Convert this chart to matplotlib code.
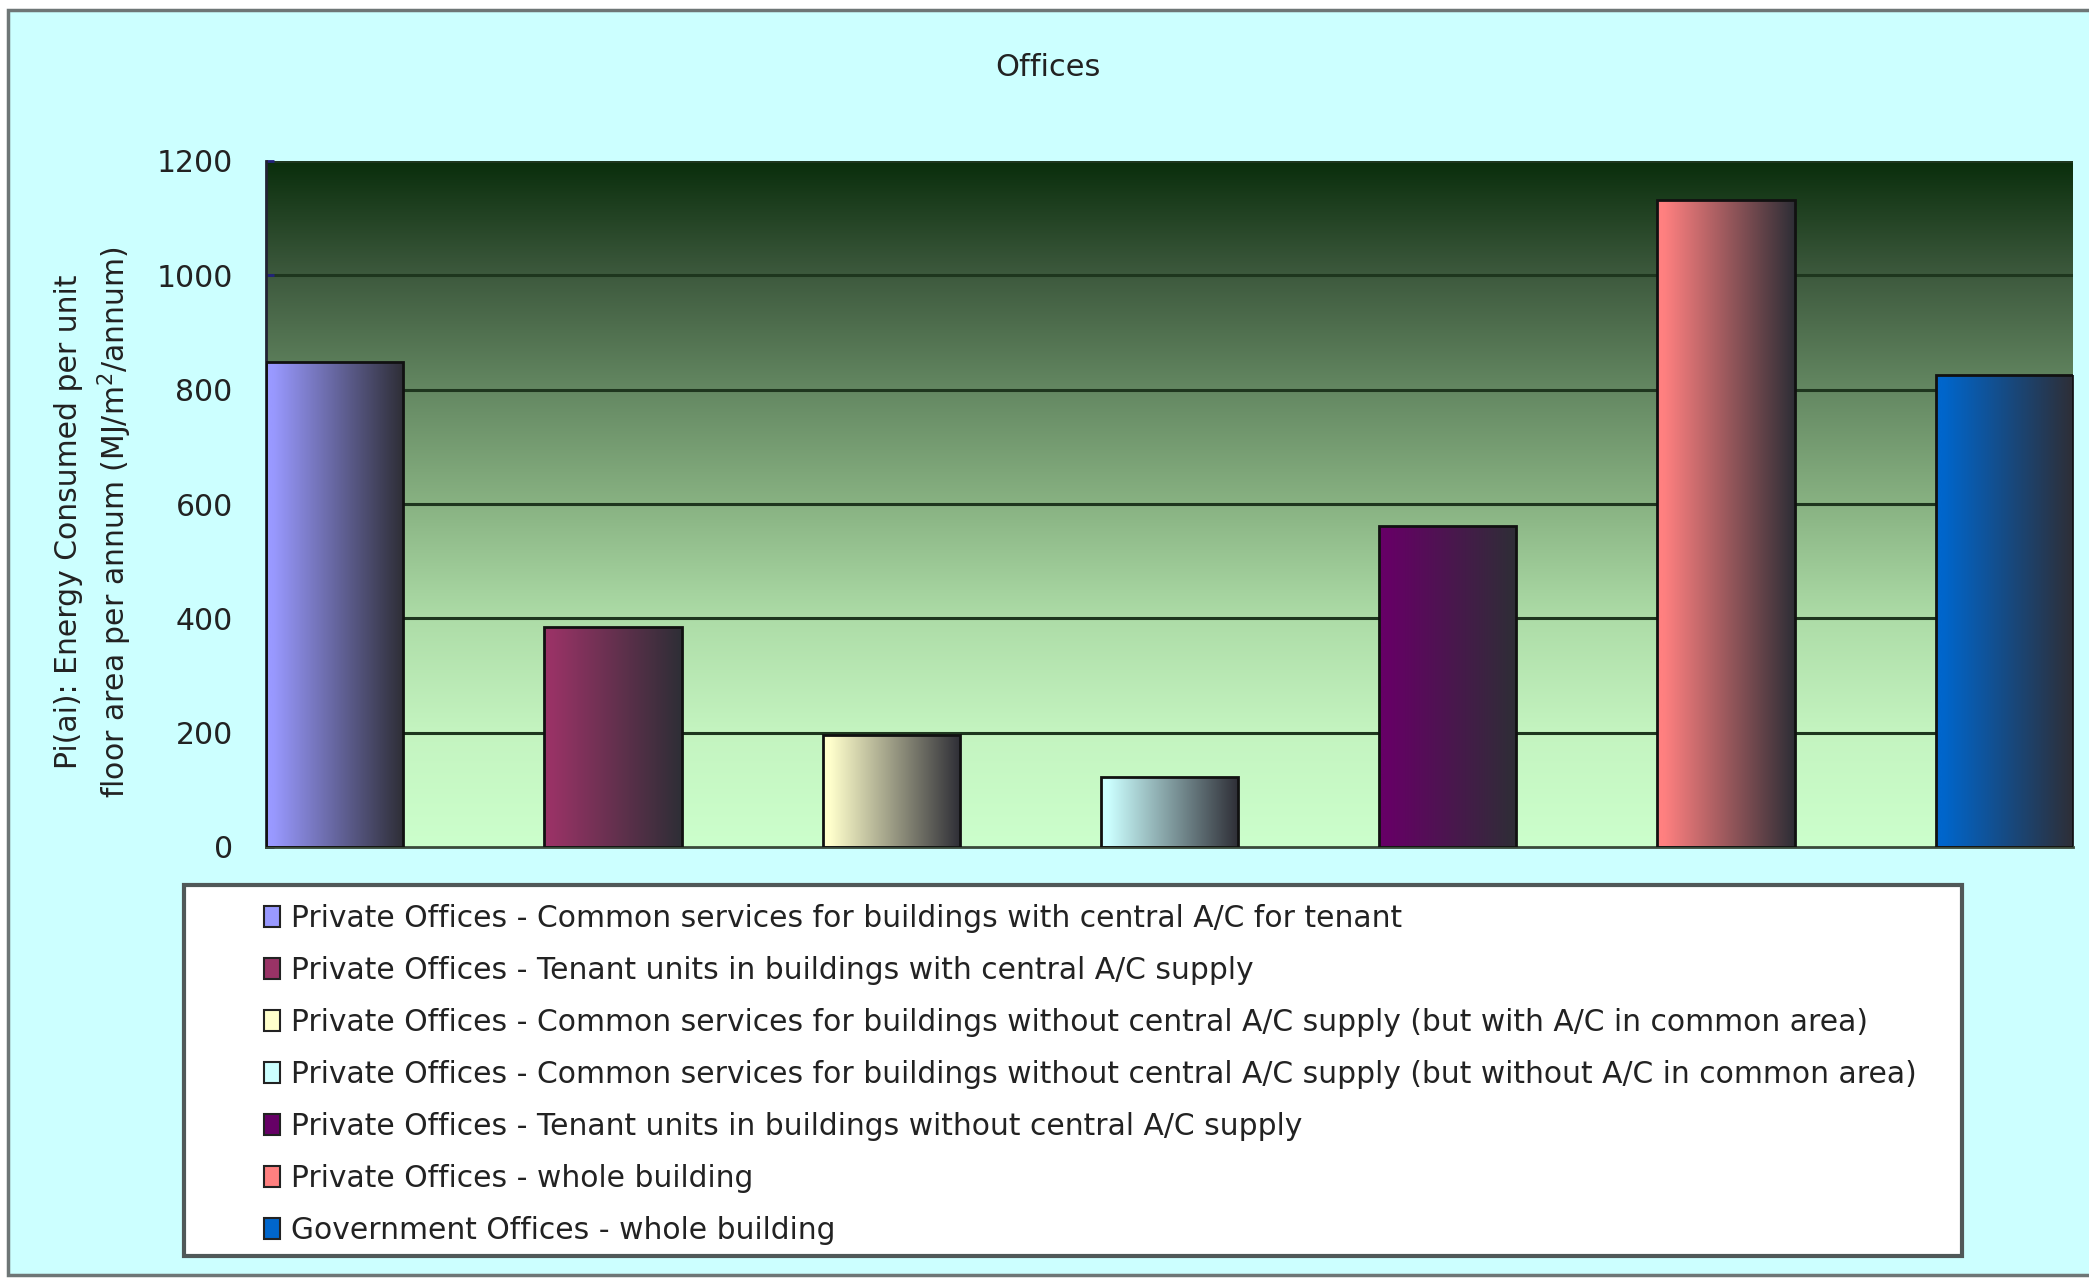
import numpy as np
import matplotlib
matplotlib.use("Agg")
import matplotlib.pyplot as plt
from matplotlib.colors import LinearSegmentedColormap, to_rgb
from matplotlib.patches import Rectangle, Patch

plt.rcParams['font.family'] = ['DejaVu Sans']

labels = [
    "Private Offices - Common services for buildings with central A/C for tenant",
    "Private Offices - Tenant units in buildings with central A/C supply",
    "Private Offices - Common services for buildings without central A/C supply (but with A/C in common area)",
    "Private Offices - Common services for buildings without central A/C supply (but without A/C in common area)",
    "Private Offices - Tenant units in buildings without central A/C supply",
    "Private Offices - whole building",
    "Government Offices - whole building",
]
values = [848, 384, 196, 123, 561, 1132, 825]
bar_colors = ["#9999FF", "#993366", "#FFFFCC", "#CCFFFF", "#660066", "#FF8080", "#0066CC"]
yticks = [0, 200, 400, 600, 800, 1000, 1200]

W, H = 2089, 1281
fig = plt.figure(figsize=(W / 100, H / 100), dpi=100, facecolor="white")

# chart area: pale cyan with a grey frame on top/left/bottom
fig.patches.append(Rectangle((8 / W, 6 / H), 1.05, 1 - 16 / H, transform=fig.transFigure,
                             facecolor="#CCFFFF", edgecolor="#6E7676", linewidth=2.5, zorder=-5))

ax = fig.add_axes([266 / W, 1 - 847 / H, (2073 - 266) / W, (847 - 161) / H])
ax.set_facecolor("none")

# vertical green gradient behind the bars
bg = LinearSegmentedColormap.from_list("bg", [
    (0.0, "#CCFFCC"), (1 / 6, "#C4F4C0"), (2 / 6, "#ADDCA7"), (3 / 6, "#88B282"),
    (4 / 6, "#648862"), (5 / 6, "#3E5A3E"), (1.0, "#0A2E0C")])
width = 0.493
xmin, xmax = -width / 2, len(values) - 1 + width / 2
grad = np.linspace(0, 1, 256).reshape(-1, 1)
ax.imshow(grad, cmap=bg, origin="lower", aspect="auto",
          extent=(xmin, xmax, 0, 1200), zorder=0)

for y in yticks[1:]:
    ax.axhline(y, color="#1E361E", linewidth=2.2, zorder=1)

x = np.arange(len(values))
bars = ax.bar(x, values, width=width, facecolor="none", edgecolor="#111111",
              linewidth=2, zorder=3)
for b, c in zip(bars, bar_colors):
    base = np.array(to_rgb(c))
    dark = np.array(to_rgb("#2E2E36"))
    t = np.clip((np.linspace(0, 1, 200) - 0.05) / 0.95, 0, 1)
    row = base[None, :] * (1 - t[:, None]) + dark[None, :] * t[:, None]
    im = ax.imshow(row[None, :, :], aspect="auto", zorder=2,
                   extent=(b.get_x(), b.get_x() + b.get_width(), 0, b.get_height()))
    im.set_clip_path(b)

ax.set_xlim(xmin, xmax)
ax.set_ylim(0, 1200)
ax.set_xticks([])
ax.set_yticks(yticks)
ax.tick_params(axis="y", direction="in", length=6, width=2, color="#22227A",
               labelsize=21.5, pad=24, labelcolor="#222222")
for s in ["top", "right"]:
    ax.spines[s].set_visible(False)
ax.spines["left"].set_color("#222233")
ax.spines["left"].set_linewidth(2)
ax.spines["bottom"].set_color("#3A4A3A")
ax.spines["bottom"].set_linewidth(2)

fig.text(1048 / W, 1 - 68 / H, "Offices", ha="center", va="center",
         fontsize=22, color="#222222")
fig.text(94 / W, 1 - 522 / H,
         "Pi(ai): Energy Consumed per unit\nfloor area per annum (MJ/m$^2$/annum)",
         rotation=90, ha="center", va="center", multialignment="center",
         fontsize=21.5, color="#222222", linespacing=1.45)

# legend box
fig.patches.append(Rectangle((184 / W, 1 - 1256 / H), (1962 - 184) / W, (1256 - 885) / H,
                             transform=fig.transFigure, facecolor="white",
                             edgecolor="#505858", linewidth=3, zorder=1))
handles = [Patch(facecolor=c, edgecolor="#222222", linewidth=1.5) for c in bar_colors]
leg = fig.legend(handles, labels, loc="upper left", bbox_to_anchor=(249 / W, 1 - 889 / H),
                 frameon=False, fontsize=21.4, handlelength=0.55, handleheight=0.7,
                 handletextpad=0.35, labelspacing=0.775, borderpad=0, labelcolor="#222222")

fig.savefig("out.png", dpi=100, facecolor=fig.get_facecolor())
